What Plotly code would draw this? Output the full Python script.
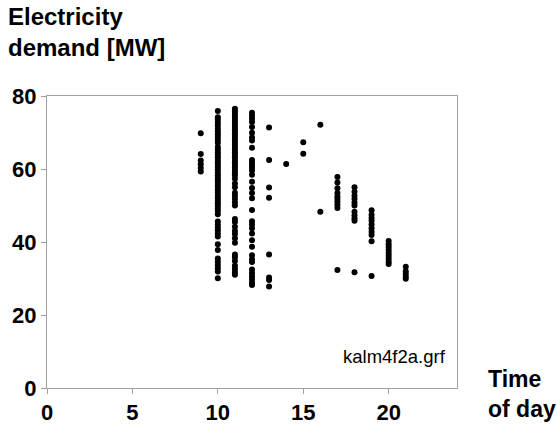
import plotly.graph_objects as go

# Electricity demand [MW] readings, grouped by hour of day
hours = [9, 10, 11, 12, 13, 14, 15, 16, 17, 18, 19, 20, 21]

demand_h09 = [69.8, 64.1, 62.3, 61.3, 60.3, 59.3]
demand_h10 = [75.9, 74.2, 73.5, 72.7, 71.9, 71.0, 70.3, 69.5, 68.8, 68.0, 67.2, 66.0,
              65.3, 64.6, 63.9, 63.2, 62.5, 61.8, 61.1, 60.4, 59.7, 59.0, 58.3, 57.6,
              56.9, 56.2, 55.5, 54.8, 54.1, 53.4, 52.7, 52.0, 51.3, 50.6, 49.9, 49.2,
              48.5, 47.6, 45.6, 44.8, 44.0, 43.2, 42.3, 41.5, 39.4, 37.8, 35.5, 34.6,
              33.7, 32.8, 31.9, 30.1]
demand_h11 = [76.5, 75.8, 75.1, 74.4, 73.7, 73.0, 72.3, 71.6, 70.9, 70.2, 69.5, 68.8,
              68.1, 67.4, 66.7, 66.0, 65.3, 64.6, 63.9, 63.2, 62.5, 61.8, 61.1, 60.4,
              59.7, 59.0, 58.3, 57.3, 56.0, 55.0, 53.5, 52.7, 51.8, 50.8, 50.0, 46.3,
              45.5, 44.2, 43.0, 42.2, 41.0, 39.8, 36.6, 35.8, 34.8, 33.5, 32.6, 31.7,
              31.0]
demand_h12 = [75.4, 74.6, 73.8, 72.9, 71.5, 69.9, 68.6, 67.8, 65.8, 62.5, 61.7, 61.0,
              60.3, 59.6, 58.4, 56.5, 54.8, 53.4, 52.0, 48.8, 45.7, 44.8, 43.8, 42.3,
              40.5, 38.7, 36.4, 35.3, 34.5, 32.5, 31.5, 30.6, 29.8, 28.9, 28.2]
demand_h13 = [71.4, 62.5, 54.9, 52.1, 36.6, 30.3, 29.6, 27.8]
demand_h14 = [61.4]
demand_h15 = [67.3, 64.2]
demand_h16 = [72.1, 48.3]
demand_h17 = [57.8, 56.3, 54.7, 53.4, 52.5, 51.8, 51.0, 50.2, 49.3, 32.3]
demand_h18 = [55.0, 53.8, 52.7, 51.8, 50.8, 50.0, 48.3, 47.3, 46.5, 45.8, 31.7]
demand_h19 = [48.7, 47.5, 46.6, 45.8, 44.8, 43.8, 42.8, 41.9, 40.2, 30.7]
demand_h20 = [40.3, 39.4, 38.6, 37.8, 37.0, 36.2, 35.4, 34.6, 34.0]
demand_h21 = [33.2, 32.0, 31.2, 30.5, 29.9]

groups = [demand_h09, demand_h10, demand_h11, demand_h12, demand_h13, demand_h14,
          demand_h15, demand_h16, demand_h17, demand_h18, demand_h19, demand_h20,
          demand_h21]

x_ticks = [0, 5, 10, 15, 20]
y_ticks = [0, 20, 40, 60, 80]

xs, ys = [], []
for h, vals in zip(hours, groups):
    xs.extend([h] * len(vals))
    ys.extend(vals)

fig = go.Figure(go.Scatter(
    x=xs, y=ys, mode="markers",
    marker=dict(color="black", size=6, line=dict(width=0)),
    hoverinfo="x+y",
))

L, R, T, B = 47, 457, 96, 388
W, H = R - L, B - T

def px(xp):
    return (xp - L) / W

def py(yp):
    return (B - yp) / H

FAM = "Liberation Sans, Arial, sans-serif"
bold = dict(family=FAM, size=24, color="black")
axis_common = dict(
    showgrid=False, zeroline=False, showline=True, linecolor="#a0a0a0",
    linewidth=1, mirror=True, ticks="outside", ticklen=5, tickcolor="#a0a0a0",
    automargin=False,
    tickfont=dict(family=FAM, size=22, color="black", weight="bold"),
)

fig.update_layout(
    width=557, height=424,
    margin=dict(l=L, r=557 - R, t=T, b=424 - B, pad=0, autoexpand=False),
    paper_bgcolor="white", plot_bgcolor="white",
    showlegend=False,
    xaxis=dict(range=[0, 24], tickvals=x_ticks, **axis_common),
    yaxis=dict(range=[0, 80], tickvals=y_ticks, **axis_common),
    annotations=[
        dict(text="<b>Electricity<br>demand [MW]</b>", xref="paper", yref="paper",
             x=px(6), y=py(1), xanchor="left", yanchor="top", align="left",
             showarrow=False, font=bold),
        dict(text="<b>Time<br>of day</b>", xref="paper", yref="paper",
             x=px(486), y=py(394), xanchor="left", yanchor="middle", align="left",
             showarrow=False, font=dict(family=FAM, size=23, color="black")),
        dict(text="kalm4f2a.grf", xref="paper", yref="paper",
             x=px(448), y=py(356), xanchor="right", yanchor="middle",
             showarrow=False,
             font=dict(family=FAM, size=18.5, color="black")),
    ],
)

fig.write_html(
    "out.html",
    config={"displayModeBar": False},
    post_script="document.body.style.margin='0';document.body.style.overflow='hidden';",
)
